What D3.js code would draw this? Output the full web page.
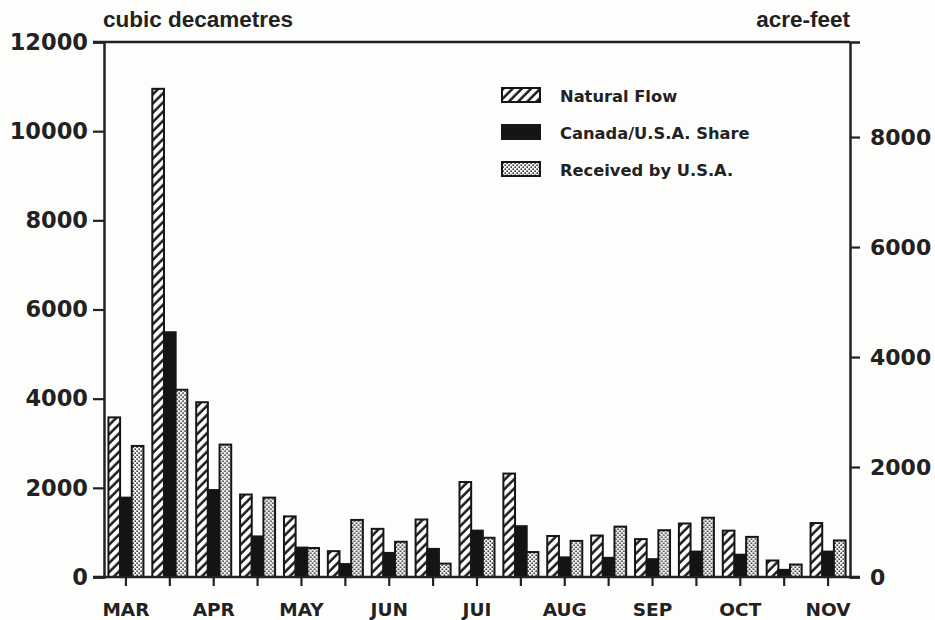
<!DOCTYPE html>
<html>
<head>
<meta charset="utf-8">
<script src="https://cdn.jsdelivr.net/npm/d3@7"></script>
<style>
  html, body { margin: 0; padding: 0; background: #fdfdfc; }
  svg { display: block; }
  .tick text { font-family: "DejaVu Sans", sans-serif; font-weight: bold; fill: #222; }
</style>
</head>
<body>
<div id="chart"></div>
<script>
// Half-month periods, March to early November
const periods = ["MAR-1","MAR-2","APR-1","APR-2","MAY-1","MAY-2","JUN-1","JUN-2",
                 "JUI-1","JUI-2","AUG-1","AUG-2","SEP-1","SEP-2","OCT-1","OCT-2","NOV-1"];
const monthLabels = ["MAR","APR","MAY","JUN","JUI","AUG","SEP","OCT","NOV"];

// Volumes in cubic decametres
const naturalFlow = [3580, 10950, 3920, 1850, 1360, 580, 1080, 1290, 2130, 2320, 920, 930, 850, 1200, 1040, 370, 1210];
const share       = [1780, 5490, 1950, 910, 660, 290, 540, 630, 1040, 1140, 440, 430, 400, 570, 500, 160, 570];
const received    = [2940, 4200, 2970, 1780, 650, 1280, 790, 300, 880, 560, 810, 1130, 1050, 1330, 900, 280, 820];

const seriesNames = ["Natural Flow", "Canada/U.S.A. Share", "Received by U.S.A."];
const seriesKeys = ["natural", "share", "received"];

const leftTicks = [0, 2000, 4000, 6000, 8000, 10000, 12000];
const rightTicks = [0, 2000, 4000, 6000, 8000];
const DAM3_PER_ACRE_FOOT = 1.2335;

const W = 935, H = 620;
const margin = { top: 42, right: 85, bottom: 43, left: 104 };
const plotW = W - margin.left - margin.right;
const plotH = H - margin.top - margin.bottom;

const svg = d3.select("#chart").append("svg")
  .attr("width", W).attr("height", H);

// Fill patterns
const defs = svg.append("defs");
const hatch = defs.append("pattern")
  .attr("id", "hatch").attr("patternUnits", "userSpaceOnUse")
  .attr("width", 6.5).attr("height", 6.5)
  .attr("patternTransform", "rotate(45)");
hatch.append("rect").attr("width", 6.5).attr("height", 6.5).attr("fill", "#fff");
hatch.append("line").attr("x1", 1.5).attr("y1", 0).attr("x2", 1.5).attr("y2", 6.5)
  .attr("stroke", "#1a1a1a").attr("stroke-width", 2.5);

const dots = defs.append("pattern")
  .attr("id", "dots").attr("patternUnits", "userSpaceOnUse")
  .attr("width", 4).attr("height", 4);
dots.append("rect").attr("width", 4).attr("height", 4).attr("fill", "#f4f4f4");
dots.append("rect").attr("x", 0.4).attr("y", 0.4).attr("width", 1.6).attr("height", 1.6).attr("fill", "#3a3a3a");
dots.append("rect").attr("x", 2.4).attr("y", 2.4).attr("width", 1.6).attr("height", 1.6).attr("fill", "#3a3a3a");

const fills = { natural: "url(#hatch)", share: "#141414", received: "url(#dots)" };

const g = svg.append("g").attr("transform", `translate(${margin.left},${margin.top})`);

// Scales
const x = d3.scaleBand().domain(periods).range([0, plotW]).padding(0);
const xInner = d3.scaleBand().domain(seriesKeys).range([0, x.bandwidth()])
  .paddingInner(0).paddingOuter(0.38);
const y = d3.scaleLinear().domain([0, 12000]).range([plotH, 0]);
const yAF = d3.scaleLinear().domain([0, 12000 / DAM3_PER_ACRE_FOOT]).range([plotH, 0]);

const rows = periods.map((p, i) => ({
  period: p,
  natural: naturalFlow[i],
  share: share[i],
  received: received[i]
}));

// Bars
const groups = g.selectAll("g.period").data(rows).join("g")
  .attr("class", "period")
  .attr("transform", d => `translate(${x(d.period)},0)`);

groups.selectAll("rect")
  .data(d => seriesKeys.map(k => ({ key: k, value: d[k] })))
  .join("rect")
  .attr("x", d => xInner(d.key))
  .attr("width", xInner.bandwidth())
  .attr("y", d => y(d.value))
  .attr("height", d => y(0) - y(d.value))
  .attr("fill", d => fills[d.key])
  .attr("stroke", "#161616")
  .attr("stroke-width", 2);

// Frame lines
const axisColor = "#222";
g.append("line").attr("x1", -11).attr("x2", plotW).attr("y1", 0).attr("y2", 0)
  .attr("stroke", axisColor).attr("stroke-width", 2.5);

// Left axis
const leftAxis = g.append("g")
  .call(d3.axisLeft(y).tickValues(leftTicks).tickSize(11).tickPadding(5).tickFormat(d3.format("d")));
leftAxis.select(".domain").attr("stroke", axisColor).attr("stroke-width", 2.5);
leftAxis.selectAll(".tick line").attr("stroke", axisColor).attr("stroke-width", 2.2);
leftAxis.selectAll(".tick text").attr("font-size", 22.5);

// Right axis (acre-feet)
const rightAxis = g.append("g").attr("transform", `translate(${plotW},0)`)
  .call(d3.axisRight(yAF).tickValues(rightTicks).tickSize(10).tickPadding(10).tickFormat(d3.format("d")));
rightAxis.select(".domain").attr("stroke", axisColor).attr("stroke-width", 2.5);
rightAxis.selectAll(".tick line").attr("stroke", axisColor).attr("stroke-width", 2.2);
rightAxis.selectAll(".tick text").attr("font-size", 22);

// Bottom axis
const bottomAxis = g.append("g").attr("transform", `translate(0,${plotH})`)
  .call(d3.axisBottom(x).tickSize(9).tickPadding(17)
    .tickFormat((d, i) => i % 2 === 0 ? monthLabels[i / 2] : ""));
bottomAxis.select(".domain").remove();
bottomAxis.selectAll(".tick line").attr("stroke", axisColor).attr("stroke-width", 2.2);
bottomAxis.selectAll(".tick text").attr("font-size", 18.5);
g.append("line").attr("x1", -11).attr("x2", plotW + 10).attr("y1", plotH).attr("y2", plotH)
  .attr("stroke", axisColor).attr("stroke-width", 2.5);

// Unit titles
svg.append("text").attr("x", margin.left - 1).attr("y", 27)
  .attr("font-family", "Liberation Sans, Arial, sans-serif").attr("font-weight", "bold")
  .attr("font-size", 22.5).attr("fill", "#222").text("cubic decametres");
svg.append("text").attr("x", margin.left + plotW).attr("y", 27).attr("text-anchor", "end")
  .attr("font-family", "Liberation Sans, Arial, sans-serif").attr("font-weight", "bold")
  .attr("font-size", 22.5).attr("fill", "#222").text("acre-feet");

// Legend
const legend = svg.append("g").attr("transform", "translate(502,88)");
const legendItems = legend.selectAll("g").data(seriesKeys).join("g")
  .attr("transform", (d, i) => `translate(0,${i * 37})`);
legendItems.append("rect")
  .attr("width", 38).attr("height", 14)
  .attr("fill", d => fills[d]).attr("stroke", "#161616").attr("stroke-width", 2);
legendItems.append("text")
  .attr("x", 58).attr("y", 13.5)
  .attr("font-family", "DejaVu Sans, sans-serif").attr("font-weight", "bold")
  .attr("font-size", 16.3).attr("fill", "#222")
  .text((d, i) => seriesNames[i]);
</script>
</body>
</html>
